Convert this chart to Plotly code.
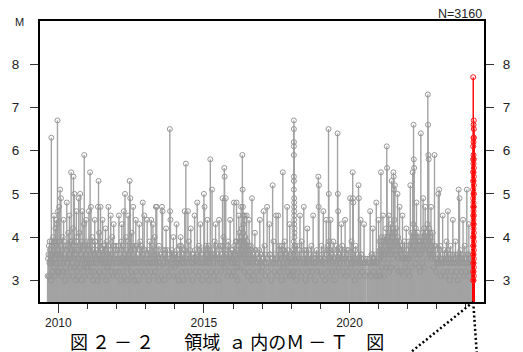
import plotly.graph_objects as go

# ---------------- data (decimal year, magnitude M) ----------------
ev_2009 = [(2009.63,3.1),(2009.66,3.6),(2009.68,3.1),(2009.70,3.9),(2009.72,3.6),(2009.73,3.4),(2009.75,3.0),
           (2009.76,6.3),(2009.78,3.8),(2009.80,3.2),(2009.82,4.0),(2009.84,3.3),(2009.85,4.5),(2009.87,3.9),
           (2009.89,3.1),(2009.90,4.2),(2009.91,3.5),(2009.93,4.4),(2009.94,4.3),(2009.96,3.2),(2009.97,6.7),
           (2009.98,3.7),(2009.99,4.6)]
ev_2010 = [(2010.01,3.2),(2010.03,4.7),(2010.04,3.9),(2010.06,5.1),(2010.07,3.3),(2010.09,4.9),(2010.10,3.6),
           (2010.12,3.1),(2010.15,4.0),(2010.17,3.2),(2010.18,4.4),(2010.20,3.5),(2010.23,3.0),(2010.26,3.8),
           (2010.28,3.2),(2010.29,4.8),(2010.31,3.4),(2010.34,4.1),(2010.36,3.1),(2010.38,4.5),(2010.40,3.6),
           (2010.42,3.3),(2010.44,5.5),(2010.46,3.9),(2010.48,3.1),(2010.50,4.2),(2010.52,5.4),(2010.54,3.3),
           (2010.55,5.0),(2010.57,3.7),(2010.59,3.0),(2010.61,4.0),(2010.62,4.6),(2010.64,3.2),(2010.67,3.5),
           (2010.69,3.1),(2010.70,4.9),(2010.72,4.1),(2010.74,3.3),(2010.75,5.0),(2010.77,3.6),(2010.80,3.0),
           (2010.82,4.6),(2010.84,3.8),(2010.86,3.2),(2010.88,4.3),(2010.89,5.9),(2010.91,3.1),(2010.93,3.6),
           (2010.95,4.4),(2010.97,3.3),(2010.99,3.9)]
ev_2011 = [(2011.01,3.3),(2011.03,3.8),(2011.05,4.6),(2011.07,3.1),(2011.09,5.5),(2011.10,3.5),(2011.12,4.7),
           (2011.14,3.2),(2011.16,4.0),(2011.19,3.0),(2011.21,3.6),(2011.23,3.2),(2011.25,4.4),(2011.27,3.9),
           (2011.30,3.1),(2011.32,3.4),(2011.34,3.0),(2011.36,4.7),(2011.38,5.3),(2011.40,4.1),(2011.42,3.2),
           (2011.45,4.7),(2011.48,3.5),(2011.50,3.1),(2011.52,4.4),(2011.55,3.8),(2011.57,3.2),(2011.60,3.4),
           (2011.62,4.2),(2011.64,3.0),(2011.67,3.9),(2011.69,3.3),(2011.72,4.7),(2011.74,3.1),(2011.77,3.6),
           (2011.80,4.5),(2011.83,3.2),(2011.85,4.0),(2011.88,3.1),(2011.90,4.3),(2011.93,3.5),(2011.96,3.2),
           (2011.98,3.8)]
ev_2012 = [(2012.01,3.1),(2012.04,3.7),(2012.06,3.2),(2012.08,4.5),(2012.11,3.4),(2012.14,3.0),(2012.16,3.9),
           (2012.18,4.3),(2012.21,3.2),(2012.23,3.5),(2012.25,4.6),(2012.27,3.1),(2012.29,5.0),(2012.32,4.0),
           (2012.35,3.3),(2012.37,3.0),(2012.40,4.5),(2012.42,3.6),(2012.45,5.3),(2012.47,4.9),(2012.50,3.2),
           (2012.52,4.1),(2012.55,3.1),(2012.57,4.7),(2012.60,3.5),(2012.62,3.0),(2012.64,3.8),(2012.66,4.4),
           (2012.69,3.2),(2012.72,3.4),(2012.75,3.0),(2012.78,4.3),(2012.81,3.9),(2012.84,3.2),(2012.87,3.5),
           (2012.90,4.8),(2012.93,3.1),(2012.95,4.5),(2012.98,3.7)]
ev_2013 = [(2013.02,3.2),(2013.05,4.4),(2013.08,3.6),(2013.11,3.0),(2013.14,3.9),(2013.17,3.2),(2013.19,4.4),
           (2013.22,3.4),(2013.25,4.3),(2013.28,3.1),(2013.31,4.0),(2013.33,3.2),(2013.35,4.7),(2013.38,4.7),
           (2013.41,3.5),(2013.44,3.0),(2013.47,3.3),(2013.50,3.6),(2013.53,3.1),(2013.56,4.7),(2013.58,4.6),
           (2013.61,3.4),(2013.64,3.0),(2013.67,3.7),(2013.70,4.2),(2013.73,3.2),(2013.76,3.5),(2013.80,3.1),
           (2013.83,6.5),(2013.84,4.6),(2013.85,4.4),(2013.88,3.3),(2013.91,3.6),(2013.95,4.0),(2013.97,3.1)]
ev_2014 = [(2014.01,3.3),(2014.03,3.6),(2014.06,4.3),(2014.09,3.1),(2014.12,3.5),(2014.15,3.0),(2014.17,3.8),
           (2014.20,4.0),(2014.23,3.2),(2014.26,3.4),(2014.29,3.0),(2014.31,3.7),(2014.34,4.6),(2014.36,3.2),
           (2014.38,5.7),(2014.41,3.5),(2014.43,3.1),(2014.45,4.6),(2014.48,3.9),(2014.51,3.2),(2014.55,4.2),
           (2014.58,3.4),(2014.61,3.0),(2014.64,3.6),(2014.68,4.5),(2014.71,3.2),(2014.74,3.5),(2014.77,4.8),
           (2014.80,3.1),(2014.83,3.8),(2014.86,3.2),(2014.88,4.3),(2014.91,3.5),(2014.94,3.0),(2014.97,3.6)]
ev_2015 = [(2015.00,5.0),(2015.02,4.7),(2015.05,3.2),(2015.07,3.8),(2015.09,3.1),(2015.12,4.4),(2015.15,3.5),
           (2015.18,3.0),(2015.20,3.7),(2015.22,5.8),(2015.25,3.2),(2015.28,5.1),(2015.31,3.6),(2015.34,3.1),
           (2015.37,3.9),(2015.40,4.3),(2015.43,3.2),(2015.46,3.5),(2015.49,3.0),(2015.52,4.4),(2015.55,3.8),
           (2015.58,3.2),(2015.61,3.4),(2015.64,4.9),(2015.67,4.0),(2015.70,5.6),(2015.71,5.4),(2015.73,3.3),
           (2015.75,4.9),(2015.78,3.6),(2015.81,3.1),(2015.84,3.9),(2015.87,3.2),(2015.90,4.4),(2015.93,3.5),
           (2015.96,3.1),(2015.98,3.7)]
ev_2016 = [(2016.01,3.2),(2016.03,4.8),(2016.05,3.6),(2016.08,3.1),(2016.10,3.9),(2016.12,4.8),(2016.14,3.3),
           (2016.16,3.0),(2016.18,3.7),(2016.20,4.5),(2016.22,4.1),(2016.24,3.3),(2016.26,3.9),(2016.28,4.7),
           (2016.30,4.2),(2016.31,3.5),(2016.32,5.9),(2016.33,5.1),(2016.34,4.7),(2016.35,4.5),(2016.36,4.3),
           (2016.37,3.8),(2016.38,3.2),(2016.40,4.5),(2016.42,4.0),(2016.44,3.4),(2016.47,4.5),(2016.49,3.9),
           (2016.51,3.1),(2016.53,3.6),(2016.55,4.4),(2016.58,3.2),(2016.61,3.8),(2016.63,3.0),(2016.65,4.9),
           (2016.68,3.5),(2016.71,3.1),(2016.75,4.1),(2016.78,3.7),(2016.81,3.2),(2016.85,3.4),(2016.88,3.0),
           (2016.92,4.4),(2016.95,3.6),(2016.98,3.2)]
ev_2017 = [(2017.02,3.3),(2017.05,4.6),(2017.08,3.8),(2017.11,3.1),(2017.14,3.4),(2017.17,4.7),(2017.20,3.2),
           (2017.25,4.3),(2017.28,3.6),(2017.31,3.0),(2017.36,5.2),(2017.39,3.9),(2017.42,3.2),(2017.45,3.5),
           (2017.48,4.5),(2017.51,3.1),(2017.55,4.5),(2017.58,3.8),(2017.61,3.2),(2017.64,3.5),(2017.67,3.0),
           (2017.69,3.7),(2017.71,5.5),(2017.74,3.3),(2017.77,3.9),(2017.80,3.1),(2017.83,3.6),(2017.86,4.7),
           (2017.89,3.2),(2017.92,3.5),(2017.95,4.3),(2017.97,3.1)]
ev_2018 = [(2018.01,3.2),(2018.04,3.7),(2018.06,3.1),(2018.08,3.2),(2018.085,3.9),(2018.09,6.7),(2018.09,6.5),
           (2018.09,6.2),(2018.09,6.1),(2018.09,5.9),(2018.09,5.4),(2018.09,5.3),(2018.09,5.1),(2018.10,4.9),
           (2018.10,4.8),(2018.10,4.7),(2018.10,4.6),(2018.10,4.5),(2018.10,4.4),(2018.10,4.3),(2018.11,4.2),
           (2018.11,4.1),(2018.11,4.0),(2018.11,3.8),(2018.12,3.6),(2018.12,3.4),(2018.14,3.5),(2018.17,3.0),
           (2018.20,3.8),(2018.23,3.2),(2018.26,3.5),(2018.30,4.5),(2018.33,3.1),(2018.36,3.9),(2018.39,3.2),
           (2018.43,4.7),(2018.46,3.4),(2018.49,3.0),(2018.52,3.7),(2018.55,4.2),(2018.58,3.2),(2018.61,3.5),
           (2018.65,3.1),(2018.69,3.8),(2018.72,3.2),(2018.75,4.5),(2018.78,3.4),(2018.82,3.0),(2018.86,3.6),
           (2018.89,3.2),(2018.93,5.4),(2018.94,4.7),(2018.95,5.2),(2018.97,3.5)]
ev_2019 = [(2019.01,3.2),(2019.04,3.8),(2019.07,3.1),(2019.10,4.6),(2019.13,3.5),(2019.16,3.0),(2019.20,4.4),
           (2019.23,3.7),(2019.25,3.2),(2019.28,6.5),(2019.29,5.0),(2019.31,3.9),(2019.33,3.1),(2019.35,4.4),
           (2019.38,3.6),(2019.41,3.2),(2019.44,3.9),(2019.47,3.0),(2019.50,3.5),(2019.53,3.2),(2019.56,3.8),
           (2019.59,6.4),(2019.60,5.0),(2019.61,4.6),(2019.63,3.3),(2019.66,3.6),(2019.69,3.1),(2019.72,4.3),
           (2019.75,3.8),(2019.78,3.2),(2019.81,3.5),(2019.85,4.4),(2019.88,3.1),(2019.91,3.7),(2019.94,3.2),
           (2019.97,3.5)]
ev_2020 = [(2020.02,4.9),(2020.05,3.3),(2020.07,3.9),(2020.09,3.1),(2020.11,5.5),(2020.12,4.9),(2020.13,4.8),
           (2020.15,3.5),(2020.18,3.0),(2020.21,3.8),(2020.24,3.2),(2020.27,3.5),(2020.31,5.2),(2020.32,4.9),
           (2020.35,3.1),(2020.38,4.4),(2020.41,3.6),(2020.44,3.2),(2020.47,3.4),(2020.50,4.3),(2020.53,3.1),
           (2020.56,3.5),(2020.62,3.2),(2020.67,3.4),(2020.71,4.6),(2020.74,3.1),(2020.77,3.6),(2020.80,4.2),
           (2020.83,3.2),(2020.86,3.5),(2020.89,3.1),(2020.92,4.8),(2020.95,3.4),(2020.98,3.1)]
ev_2021 = [(2021.00,4.4),(2021.02,3.2),(2021.04,3.7),(2021.06,3.1),(2021.08,5.5),(2021.10,3.9),(2021.12,3.3),
           (2021.15,4.5),(2021.17,3.6),(2021.19,3.1),(2021.21,4.0),(2021.24,3.3),(2021.26,4.2),(2021.28,6.1),
           (2021.29,5.6),(2021.31,3.4),(2021.33,4.0),(2021.35,4.5),(2021.37,3.2),(2021.39,3.8),(2021.41,4.3),
           (2021.43,3.3),(2021.45,5.3),(2021.47,4.1),(2021.49,3.5),(2021.51,5.5),(2021.52,5.4),(2021.53,5.1),
           (2021.54,4.4),(2021.56,5.2),(2021.58,3.6),(2021.60,4.2),(2021.62,3.3),(2021.65,5.0),(2021.67,4.0),
           (2021.69,3.2),(2021.72,4.7),(2021.75,3.8),(2021.78,3.2),(2021.80,3.6),(2021.82,4.5),(2021.85,3.1),
           (2021.88,3.9),(2021.91,3.3),(2021.95,4.2),(2021.98,3.5)]
ev_2022 = [(2022.01,3.2),(2022.03,3.8),(2022.06,3.1),(2022.09,5.2),(2022.12,4.1),(2022.14,3.3),(2022.17,5.5),
           (2022.19,4.3),(2022.20,6.6),(2022.21,5.8),(2022.22,5.6),(2022.24,4.0),(2022.26,3.4),(2022.28,4.2),
           (2022.30,4.8),(2022.32,3.5),(2022.35,4.1),(2022.38,3.3),(2022.41,3.9),(2022.43,3.2),(2022.45,6.4),
           (2022.48,4.0),(2022.50,3.4),(2022.53,4.9),(2022.56,4.2),(2022.58,3.3),(2022.60,4.7),(2022.63,4.1),
           (2022.66,3.5),(2022.68,4.3),(2022.69,7.3),(2022.70,6.6),(2022.71,5.9),(2022.72,5.8),(2022.74,4.2),
           (2022.76,3.6),(2022.78,4.0),(2022.80,4.7),(2022.83,3.5),(2022.86,4.1),(2022.89,3.3),(2022.92,5.9),
           (2022.95,3.8),(2022.97,3.2)]
ev_2023 = [(2023.02,3.4),(2023.05,5.0),(2023.08,5.1),(2023.11,3.8),(2023.14,3.1),(2023.17,3.5),(2023.20,4.5),
           (2023.23,3.2),(2023.26,3.7),(2023.29,3.1),(2023.33,3.9),(2023.35,3.2),(2023.38,4.6),(2023.41,3.6),
           (2023.44,3.0),(2023.47,3.8),(2023.50,3.2),(2023.55,4.4),(2023.58,3.5),(2023.61,3.1),(2023.64,3.9),
           (2023.67,3.2),(2023.70,3.6),(2023.72,3.0),(2023.75,5.1),(2023.78,4.9),(2023.81,3.7),(2023.84,3.2),
           (2023.87,3.5),(2023.90,4.4),(2023.93,3.1),(2023.96,3.8),(2023.99,3.2)]
ev_2024 = [(2024.03,5.1),(2024.06,3.6),(2024.08,3.1),(2024.10,4.3),(2024.13,3.4),(2024.16,3.2)]

# the many smaller events forming the dense band (read as typical band heights)
mid_2009 = [(2009.645,3.5),(2009.675,3.8),(2009.695,3.4),(2009.715,3.7),(2009.745,3.5),(2009.77,3.9),(2009.79,3.6),
            (2009.81,3.4),(2009.835,3.7),(2009.86,3.5),(2009.88,3.8),(2009.905,3.6),(2009.925,3.4),(2009.95,3.9),
            (2009.975,3.6)]
mid_2010 = [(2010.02,3.6),(2010.05,3.4),(2010.08,3.8),(2010.11,3.5),(2010.135,3.7),(2010.16,3.4),(2010.19,3.9),
            (2010.215,3.6),(2010.245,3.5),(2010.27,3.7),(2010.30,3.4),(2010.325,3.8),(2010.35,3.5),(2010.37,3.6),
            (2010.41,3.9),(2010.43,3.5),(2010.47,3.7),(2010.49,3.4),(2010.53,3.8),(2010.56,3.5),(2010.58,3.6),
            (2010.63,3.9),(2010.655,3.4),(2010.68,3.7),(2010.71,3.5),(2010.73,3.8),(2010.76,3.4),(2010.785,3.6),
            (2010.81,3.9),(2010.83,3.5),(2010.87,3.7),(2010.90,3.4),(2010.92,3.8),(2010.94,3.5),(2010.96,3.6),
            (2010.98,3.4)]
mid_2011 = [(2011.02,3.5),(2011.045,3.7),(2011.065,3.4),(2011.085,3.9),(2011.11,3.6),(2011.13,3.4),(2011.155,3.8),
            (2011.175,3.5),(2011.20,3.7),(2011.22,3.4),(2011.245,3.6),(2011.26,3.9),(2011.29,3.5),(2011.31,3.7),
            (2011.33,3.4),(2011.355,3.8),(2011.39,3.6),(2011.41,3.5),(2011.44,3.9),(2011.465,3.4),(2011.49,3.7),
            (2011.515,3.5),(2011.54,3.6),(2011.56,3.4),(2011.585,3.8),(2011.61,3.5),(2011.635,3.7),(2011.655,3.4),
            (2011.68,3.6),(2011.71,3.8),(2011.73,3.5),(2011.755,3.4),(2011.785,3.7),(2011.81,3.5),(2011.84,3.6),
            (2011.865,3.4),(2011.89,3.8),(2011.915,3.5),(2011.945,3.7),(2011.97,3.4)]
mid_2012 = [(2012.02,3.5),(2012.05,3.4),(2012.07,3.8),(2012.095,3.5),(2012.125,3.6),(2012.15,3.4),(2012.17,3.7),
            (2012.195,3.5),(2012.22,3.8),(2012.245,3.4),(2012.26,3.6),(2012.31,3.5),(2012.335,3.7),(2012.36,3.4),
            (2012.385,3.9),(2012.41,3.5),(2012.435,3.6),(2012.46,3.4),(2012.49,3.7),(2012.51,3.5),(2012.535,3.8),
            (2012.565,3.4),(2012.585,3.6),(2012.61,3.5),(2012.63,3.7),(2012.655,3.4),(2012.68,3.8),(2012.705,3.5),
            (2012.73,3.6),(2012.765,3.4),(2012.795,3.7),(2012.825,3.5),(2012.855,3.8),(2012.885,3.4),(2012.915,3.6),
            (2012.94,3.5),(2012.965,3.7),(2012.99,3.4)]
mid_2013 = [(2013.035,3.5),(2013.065,3.4),(2013.095,3.7),(2013.125,3.5),(2013.155,3.4),(2013.18,3.6),(2013.21,3.5),
            (2013.235,3.8),(2013.265,3.4),(2013.295,3.6),(2013.32,3.5),(2013.345,3.7),(2013.37,3.4),(2013.395,3.6),
            (2013.425,3.5),(2013.455,3.8),(2013.485,3.4),(2013.515,3.6),(2013.545,3.5),(2013.595,3.7),(2013.625,3.4),
            (2013.655,3.6),(2013.685,3.5),(2013.715,3.4),(2013.745,3.7),(2013.78,3.5),(2013.815,3.6),(2013.865,3.4),
            (2013.895,3.7),(2013.925,3.5),(2013.96,3.4),(2013.985,3.6)]
mid_2014 = [(2014.02,3.5),(2014.045,3.4),(2014.075,3.7),(2014.105,3.5),(2014.135,3.4),(2014.16,3.6),(2014.19,3.5),
            (2014.215,3.8),(2014.245,3.4),(2014.275,3.6),(2014.30,3.5),(2014.325,3.4),(2014.35,3.7),(2014.395,3.5),
            (2014.42,3.4),(2014.465,3.6),(2014.495,3.5),(2014.525,3.7),(2014.57,3.4),(2014.595,3.6),(2014.625,3.5),
            (2014.655,3.4),(2014.695,3.7),(2014.725,3.5),(2014.755,3.6),(2014.79,3.4),(2014.815,3.5),(2014.845,3.7),
            (2014.875,3.4),(2014.90,3.6),(2014.925,3.5),(2014.955,3.4),(2014.985,3.7)]
mid_2015 = [(2015.015,3.5),(2015.035,3.4),(2015.06,3.7),(2015.08,3.5),(2015.105,3.6),(2015.135,3.4),(2015.165,3.8),
            (2015.19,3.5),(2015.21,3.4),(2015.235,3.6),(2015.265,3.5),(2015.295,3.7),(2015.325,3.4),(2015.355,3.6),
            (2015.385,3.5),(2015.415,3.8),(2015.445,3.4),(2015.475,3.6),(2015.505,3.5),(2015.535,3.7),(2015.565,3.4),
            (2015.595,3.6),(2015.625,3.5),(2015.655,3.8),(2015.685,3.4),(2015.72,3.7),(2015.74,3.5),(2015.765,3.6),
            (2015.795,3.4),(2015.825,3.8),(2015.855,3.5),(2015.885,3.6),(2015.915,3.4),(2015.945,3.7),(2015.97,3.5),
            (2015.99,3.4)]
mid_2016 = [(2016.02,3.5),(2016.04,3.8),(2016.065,3.4),(2016.09,3.6),(2016.11,3.5),(2016.13,3.9),(2016.15,3.4),
            (2016.17,3.6),(2016.19,3.8),(2016.21,3.5),(2016.23,3.9),(2016.25,3.6),(2016.27,4.0),(2016.29,3.7),
            (2016.315,3.9),(2016.345,4.1),(2016.365,3.6),(2016.39,3.9),(2016.41,3.7),(2016.43,3.5),(2016.45,3.8),
            (2016.46,3.6),(2016.48,3.4),(2016.50,3.7),(2016.52,3.5),(2016.54,3.8),(2016.565,3.4),(2016.595,3.6),
            (2016.62,3.5),(2016.64,3.7),(2016.665,3.4),(2016.695,3.6),(2016.725,3.5),(2016.76,3.7),(2016.795,3.4),
            (2016.83,3.6),(2016.865,3.5),(2016.90,3.7),(2016.935,3.4),(2016.965,3.6),(2016.99,3.5)]
mid_2017 = [(2017.035,3.5),(2017.065,3.4),(2017.095,3.6),(2017.155,3.5),(2017.225,3.4),(2017.265,3.6),(2017.33,3.5),
            (2017.375,3.4),(2017.435,3.6),(2017.465,3.4),(2017.525,3.5),(2017.565,3.7),(2017.595,3.4),(2017.625,3.6),
            (2017.655,3.5),(2017.68,3.8),(2017.70,3.6),(2017.725,3.4),(2017.755,3.7),(2017.785,3.5),(2017.815,3.6),
            (2017.845,3.4),(2017.875,3.7),(2017.905,3.5),(2017.935,3.6),(2017.96,3.4),(2017.985,3.5)]
mid_2018 = [(2018.02,3.5),(2018.05,3.4),(2018.07,3.6),(2018.095,3.7),(2018.105,3.5),(2018.13,3.8),(2018.155,3.5),
            (2018.185,3.4),(2018.215,3.6),(2018.245,3.5),(2018.275,3.7),(2018.315,3.4),(2018.345,3.6),(2018.375,3.5),
            (2018.41,3.4),(2018.445,3.7),(2018.475,3.5),(2018.505,3.6),(2018.535,3.4),(2018.565,3.5),(2018.595,3.7),
            (2018.63,3.4),(2018.67,3.6),(2018.705,3.5),(2018.735,3.4),(2018.765,3.6),(2018.80,3.5),(2018.84,3.4),
            (2018.875,3.7),(2018.91,3.5),(2018.955,3.6),(2018.985,3.4)]
mid_2019 = [(2019.02,3.5),(2019.055,3.6),(2019.085,3.4),(2019.115,3.7),(2019.145,3.5),(2019.18,3.4),(2019.215,3.6),
            (2019.24,3.5),(2019.265,3.8),(2019.30,3.5),(2019.32,3.4),(2019.345,3.7),(2019.37,3.5),(2019.395,3.6),
            (2019.425,3.4),(2019.455,3.7),(2019.485,3.5),(2019.515,3.6),(2019.545,3.4),(2019.575,3.7),(2019.615,3.5),
            (2019.645,3.6),(2019.675,3.4),(2019.705,3.7),(2019.735,3.5),(2019.765,3.6),(2019.795,3.4),(2019.83,3.7),
            (2019.865,3.5),(2019.895,3.6),(2019.925,3.4),(2019.955,3.7),(2019.985,3.5)]
mid_2020 = [(2020.035,3.5),(2020.06,3.4),(2020.10,3.6),(2020.14,3.5),(2020.165,3.4),(2020.195,3.7),(2020.225,3.5),
            (2020.255,3.4),(2020.29,3.6),(2020.335,3.5),(2020.365,3.4),(2020.395,3.6),(2020.425,3.5),(2020.455,3.4),
            (2020.49,3.5),(2020.545,3.4),(2020.605,3.5),(2020.655,3.4),(2020.70,3.5),(2020.725,3.4),(2020.755,3.6),
            (2020.79,3.4),(2020.815,3.5),(2020.845,3.4),(2020.875,3.6),(2020.905,3.4),(2020.935,3.5),(2020.965,3.4),
            (2020.99,3.5)]
mid_2021 = [(2021.01,3.6),(2021.03,3.9),(2021.05,3.5),(2021.07,3.8),(2021.09,3.6),(2021.11,4.0),(2021.135,3.7),
            (2021.16,3.9),(2021.18,3.5),(2021.20,3.8),(2021.225,3.6),(2021.25,3.9),(2021.27,3.7),(2021.30,4.0),
            (2021.32,3.6),(2021.34,3.9),(2021.36,3.7),(2021.38,4.1),(2021.40,3.6),(2021.42,3.9),(2021.44,3.7),
            (2021.46,4.0),(2021.48,3.8),(2021.50,4.2),(2021.55,3.9),(2021.57,4.1),(2021.59,3.7),(2021.61,3.9),
            (2021.635,3.6),(2021.66,3.8),(2021.68,3.5),(2021.70,3.9),(2021.735,3.6),(2021.765,3.7),(2021.79,3.5),
            (2021.81,3.8),(2021.835,3.5),(2021.865,3.7),(2021.895,3.5),(2021.925,3.6),(2021.94,3.4),(2021.965,3.7),
            (2021.99,3.5)]
mid_2022 = [(2022.02,3.6),(2022.045,3.9),(2022.07,3.5),(2022.085,3.8),(2022.105,3.6),(2022.13,3.9),(2022.155,3.7),
            (2022.18,4.0),(2022.205,3.8),(2022.23,4.1),(2022.25,3.7),(2022.27,3.9),(2022.29,3.6),(2022.31,4.0),
            (2022.335,3.7),(2022.36,3.9),(2022.39,3.6),(2022.42,3.8),(2022.44,3.6),(2022.465,3.9),(2022.49,3.7),
            (2022.515,4.1),(2022.54,3.8),(2022.57,4.0),(2022.59,3.7),(2022.615,3.9),(2022.645,3.8),(2022.67,4.0),
            (2022.73,3.9),(2022.75,3.7),(2022.77,4.1),(2022.79,3.8),(2022.815,3.6),(2022.84,3.9),(2022.875,3.6),
            (2022.905,3.8),(2022.935,3.5),(2022.96,3.7),(2022.985,3.5)]
mid_2023 = [(2023.01,3.5),(2023.035,3.6),(2023.065,3.4),(2023.095,3.7),(2023.125,3.5),(2023.155,3.4),(2023.185,3.6),
            (2023.215,3.5),(2023.245,3.4),(2023.275,3.6),(2023.31,3.5),(2023.345,3.4),(2023.37,3.7),(2023.395,3.5),
            (2023.425,3.4),(2023.455,3.6),(2023.485,3.5),(2023.52,3.4),(2023.54,3.6),(2023.57,3.5),(2023.595,3.4),
            (2023.625,3.6),(2023.655,3.5),(2023.685,3.4),(2023.735,3.6),(2023.765,3.5),(2023.795,3.4),(2023.825,3.6),
            (2023.855,3.5),(2023.885,3.4),(2023.915,3.6),(2023.945,3.5),(2023.975,3.4)]
mid_2024 = [(2024.015,3.5),(2024.045,3.4),(2024.07,3.6),(2024.095,3.5),(2024.12,3.4),(2024.145,3.6),(2024.175,3.5),
            (2024.20,3.4)]

# highlighted (red) events of the latest sequence
red_t = [2024.25, 2024.27, 2024.26, 2024.27, 2024.26, 2024.27, 2024.26, 2024.25, 2024.26, 2024.27,
         2024.25, 2024.26, 2024.27, 2024.25, 2024.26, 2024.27, 2024.25, 2024.26, 2024.27, 2024.25,
         2024.26, 2024.27, 2024.25, 2024.26, 2024.27, 2024.25, 2024.26, 2024.27, 2024.25, 2024.26,
         2024.27, 2024.25, 2024.26, 2024.27, 2024.25, 2024.26, 2024.27, 2024.25, 2024.26, 2024.27,
         2024.25, 2024.26, 2024.27, 2024.25, 2024.26, 2024.27, 2024.25, 2024.26, 2024.27, 2024.25,
         2024.26]
red_m = [7.7, 6.7, 6.6, 6.5, 6.3, 6.3, 6.2, 6.1, 5.9, 5.8, 5.8, 5.7, 5.6, 5.5, 5.5, 5.4, 5.3, 5.3,
         5.2, 5.1, 5.0, 5.0, 4.9, 4.8, 4.7, 4.7, 4.6, 4.5, 4.5, 4.4, 4.3, 4.3, 4.2, 4.1, 4.0, 4.0,
         3.9, 3.8, 3.8, 3.7, 3.6, 3.6, 3.5, 3.4, 3.4, 3.3, 3.2, 3.2, 3.1, 3.0, 3.0]

n_total = 3160
y_range = [2.5, 9.0]
x_range = [2009.37, 2024.62]
major_years = [2010, 2015, 2020]
caption = "図\u00a0２\u00a0－\u00a0２\u3000\u00a0\u00a0\u00a0領域\u00a0\u00a0ａ\u00a0内のＭ\u00a0－\u00a0Ｔ\u3000図"

# ---------------- build ----------------
gray = (ev_2009 + ev_2010 + ev_2011 + ev_2012 + ev_2013 + ev_2014 + ev_2015 + ev_2016 +
        ev_2017 + ev_2018 + ev_2019 + ev_2020 + ev_2021 + ev_2022 + ev_2023 + ev_2024 +
        mid_2009 + mid_2010 + mid_2011 + mid_2012 + mid_2013 + mid_2014 + mid_2015 + mid_2016 +
        mid_2017 + mid_2018 + mid_2019 + mid_2020 + mid_2021 + mid_2022 + mid_2023 + mid_2024)
gt = [e[0] for e in gray]
gm = [e[1] for e in gray]

def stems(ts, ms, base):
    xs, ys = [], []
    for t, m in zip(ts, ms):
        xs += [t, t, None]
        ys += [base, m, None]
    return xs, ys

base = y_range[0]
sx, sy = stems(gt, gm, base)
rx, ry = stems(red_t, red_m, base)

FONT = "Liberation Sans, Arial, Helvetica, sans-serif"

fig = go.Figure()
fig.add_trace(go.Scatter(x=sx, y=sy, mode="lines", line=dict(color="#a3a3a3", width=1.4),
                         hoverinfo="skip", showlegend=False))
fig.add_trace(go.Scatter(x=gt, y=gm, mode="markers",
                         marker=dict(symbol="circle-open", size=5, color="#979797", line=dict(width=1)),
                         showlegend=False))
fig.add_trace(go.Scatter(x=rx, y=ry, mode="lines", line=dict(color="#ff0000", width=1.4),
                         hoverinfo="skip", showlegend=False, yaxis="y2"))
fig.add_trace(go.Scatter(x=red_t, y=red_m, mode="markers",
                         marker=dict(symbol="circle-open", size=5, color="#ff1a1a", line=dict(width=1)),
                         showlegend=False, yaxis="y2"))

fig.update_layout(
    width=523, height=352,
    margin=dict(l=37, r=29, t=21, b=50),
    paper_bgcolor="white", plot_bgcolor="white",
    font=dict(family=FONT, color="#222", size=13),
    xaxis=dict(range=x_range, tickmode="array", tickvals=major_years,
               ticktext=[str(v) for v in major_years],
               ticks="outside", ticklen=9, tickwidth=1, tickcolor="#333",
               minor=dict(tick0=2010, dtick=1, ticks="outside", ticklen=5, tickwidth=1, tickcolor="#333"),
               showline=True, linecolor="black", linewidth=2, mirror=True,
               showgrid=False, zeroline=False, tickfont=dict(size=12, family=FONT),
               ticklabelstandoff=0),
    yaxis=dict(range=y_range, tickmode="array", tickvals=[3, 4, 5, 6, 7, 8],
               ticks="outside", ticklen=8, tickwidth=1, tickcolor="#333",
               showline=True, linecolor="black", linewidth=2, mirror=True,
               showgrid=False, zeroline=False, tickfont=dict(size=13.5, family=FONT),
               ticklabelstandoff=8),
    yaxis2=dict(range=y_range, overlaying="y", side="right", tickmode="array",
                tickvals=[3, 4, 5, 6, 7, 8], ticks="outside", ticklen=8, tickwidth=1, tickcolor="#333",
                showline=True, linecolor="black", linewidth=2,
                showgrid=False, zeroline=False, tickfont=dict(size=13.5, family=FONT),
                ticklabelstandoff=6),
)

fig.add_annotation(text="M", xref="paper", yref="paper", x=-0.0455, y=0.996,
                   xanchor="center", yanchor="middle", showarrow=False, font=dict(size=11, family=FONT))
fig.add_annotation(text=f"N={n_total}", xref="paper", yref="paper", x=1.0, y=1.025,
                   xanchor="right", yanchor="middle", showarrow=False, font=dict(size=12.5, family=FONT))
fig.add_annotation(text=caption, xref="paper", yref="paper", x=0.0652, y=-0.14,
                   xanchor="left", yanchor="middle", showarrow=False, borderpad=0,
                   font=dict(size=18, family="Noto Sans CJK JP", color="black"))

# dotted call-out lines from the highlighted sequence toward an enlarged view below
t_hi = red_t[0]
fig.add_shape(type="line", xref="x", yref="paper", x0=t_hi, y0=0, x1=2022.09, y1=-0.18,
              line=dict(color="black", width=2.5, dash="2px,2.5px"))
fig.add_shape(type="line", xref="x", yref="paper", x0=t_hi, y0=0, x1=2024.37, y1=-0.18,
              line=dict(color="black", width=2.5, dash="2px,2.5px"))

fig.write_html("out.html")
